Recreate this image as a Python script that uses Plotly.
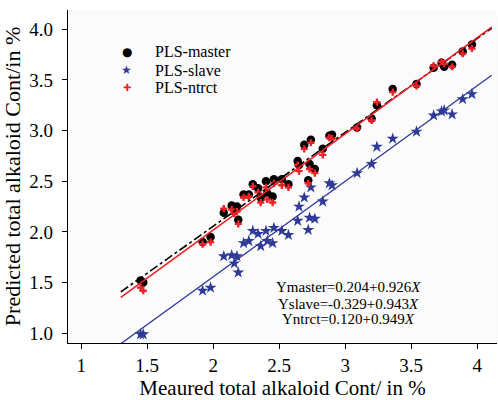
import plotly.graph_objects as go
import numpy as np

# measured total alkaloid (x) shared by samples
x_meas = [1.45, 1.47, 1.92, 1.98, 2.08, 2.14, 2.16, 2.18, 2.19, 2.23, 2.27, 2.30, 2.34, 2.36,
          2.40, 2.41, 2.45, 2.46, 2.52, 2.57, 2.64, 2.65, 2.69, 2.72, 2.73, 2.74, 2.77, 2.83,
          2.88, 2.90, 3.09, 3.20, 3.24, 3.36, 3.54, 3.67, 3.73, 3.75, 3.81, 3.89, 3.96]
y_master = [1.52, 1.50, 1.90, 1.95, 2.19, 2.26, 2.22, 2.25, 2.12, 2.37, 2.37, 2.47, 2.43, 2.34,
            2.50, 2.38, 2.35, 2.52, 2.52, 2.47, 2.70, 2.66, 2.86, 2.51, 2.67, 2.91, 2.62, 2.82,
            2.95, 2.96, 3.03, 3.12, 3.25, 3.41, 3.46, 3.62, 3.67, 3.63, 3.65, 3.78, 3.85]
y_ntrct = [1.45, 1.42, 1.88, 1.90, 2.23, 2.22, 2.18, 2.20, 2.08, 2.34, 2.35, 2.45, 2.39, 2.29,
           2.44, 2.32, 2.29, 2.48, 2.46, 2.44, 2.66, 2.60, 2.82, 2.48, 2.62, 2.88, 2.58, 2.76,
           2.93, 2.92, 3.02, 3.10, 3.28, 3.38, 3.44, 3.64, 3.68, 3.66, 3.63, 3.76, 3.81]
y_slave = [0.99, 0.99, 1.42, 1.45, 1.76, 1.77, 1.69, 1.76, 1.60, 1.89, 1.91, 2.01, 1.98, 1.86,
           2.01, 1.91, 1.89, 2.04, 2.01, 1.97, 2.11, 2.25, 2.34, 2.02, 2.14, 2.44, 2.13, 2.30,
           2.48, 2.46, 2.58, 2.67, 2.84, 2.92, 2.99, 3.15, 3.19, 3.20, 3.16, 3.31, 3.36]

# regression lines: intercept, slope
fit_master = (0.204, 0.926)
fit_slave = (-0.329, 0.943)
fit_ntrct = (0.120, 0.949)
fit_range = (1.3, 4.11)

series_names = ["PLS-master", "PLS-slave", "PLS-ntrct"]
x_ticks = [1, 1.5, 2, 2.5, 3, 3.5, 4]
y_ticks = [1.0, 1.5, 2.0, 2.5, 3.0, 3.5, 4.0]

FONT = "Liberation Serif"
BLUE = "#2e3a96"
RED = "#ec2227"

fig = go.Figure()
fig.add_trace(go.Scatter(x=x_meas, y=y_master, mode="markers", name=series_names[0], showlegend=False,
                         marker=dict(symbol="circle", size=8.5, color="black")))
fig.add_trace(go.Scatter(x=x_meas, y=y_slave, mode="markers", name=series_names[1], showlegend=False,
                         marker=dict(symbol="star", size=9, color=BLUE)))
fig.add_trace(go.Scatter(x=x_meas, y=y_ntrct, mode="markers", name=series_names[2], showlegend=False,
                         marker=dict(symbol="cross", size=6, color=RED)))

xl = np.array(fit_range)
for (b0, b1), col, dash, w in [(fit_master, "black", "dashdot", 1.6),
                               (fit_ntrct, RED, "solid", 1.6),
                               (fit_slave, BLUE, "solid", 1.3)]:
    fig.add_trace(go.Scatter(x=xl, y=b0 + b1 * xl, mode="lines", showlegend=False,
                             line=dict(color=col, dash=dash, width=w), hoverinfo="skip"))

# legend drawn as text (compact row spacing as in the original)
leg_syms = [("●", "black", 12), ("★", BLUE, 12), ("✚", RED, 10)]
leg_y = [0.874, 0.819, 0.766]
for (sym, col, sz), name, yy in zip(leg_syms, series_names, leg_y):
    fig.add_annotation(text=sym, x=0.1375, y=yy, xref="paper", yref="paper", showarrow=False,
                       xanchor="center", yanchor="middle",
                       font=dict(family="DejaVu Sans", size=sz, color=col))
    fig.add_annotation(text=name, x=0.198, y=yy, xref="paper", yref="paper", showarrow=False,
                       xanchor="left", yanchor="middle",
                       font=dict(family=FONT, size=16, color="black"))

eqs = ["Ymaster=0.204+0.926<i>X</i>", "Yslave=-0.329+0.943<i>X</i>", "Yntrct=0.120+0.949<i>X</i>"]
eq_y = [0.167, 0.118, 0.073]
for t, yy in zip(eqs, eq_y):
    fig.add_annotation(text=t, x=0.655, y=yy, xref="paper", yref="paper", showarrow=False,
                       xanchor="center", yanchor="middle", font=dict(family=FONT, size=15, color="black"))

axis_common = dict(showline=True, linecolor="black", linewidth=1.2, ticks="outside", ticklen=5,
                   tickcolor="black", showgrid=False, zeroline=False, mirror=False,
                   tickfont=dict(family=FONT, size=19, color="black"))
fig.update_xaxes(range=[0.9, 4.15], tickvals=x_ticks, ticktext=[f"{v:g}" for v in x_ticks],
                 title=dict(text="Meaured total alkaloid Cont/ in %", standoff=8,
                            font=dict(family=FONT, size=21, color="black")), **axis_common)
fig.update_yaxes(range=[0.904, 4.19], tickvals=y_ticks, ticktext=[f"{v:.1f}" for v in y_ticks],
                 ticklabelstandoff=5,
                 title=dict(text="Predicted total alkaloid Cont/in %", standoff=10,
                            font=dict(family=FONT, size=22, color="black")), **axis_common)

fig.update_layout(width=498, height=400, margin=dict(l=68, r=1, t=10, b=48),
                  paper_bgcolor="white", plot_bgcolor="#fbfbfb",
                  font=dict(family=FONT, color="black"), showlegend=False)
fig.write_html("out.html")
